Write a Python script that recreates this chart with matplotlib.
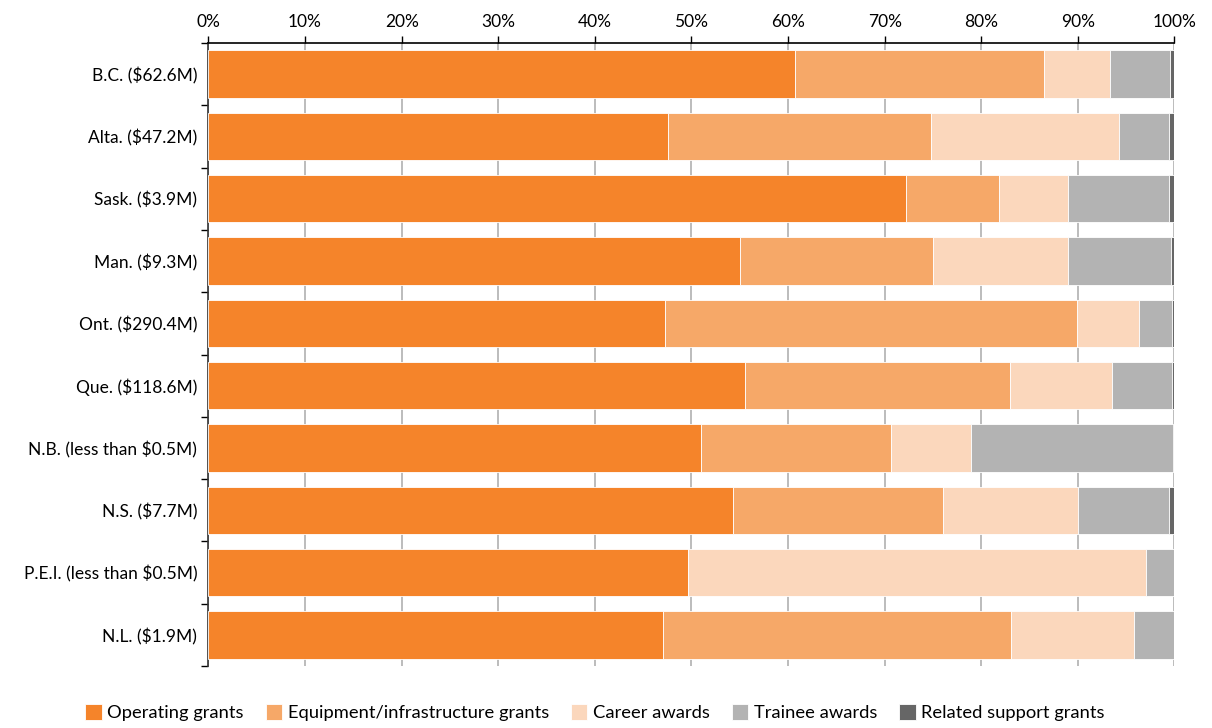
import numpy as np
import matplotlib.pyplot as plt
from matplotlib.ticker import PercentFormatter

plt.rcParams['font.family'] = ['Lato', 'DejaVu Sans']

# Provinces (top to bottom) and share of funding by program type (%)
provinces = ["B.C. ($62.6M)", "Alta. ($47.2M)", "Sask. ($3.9M)", "Man. ($9.3M)",
             "Ont. ($290.4M)", "Que. ($118.6M)", "N.B. (less than $0.5M)",
             "N.S. ($7.7M)", "P.E.I. (less than $0.5M)", "N.L. ($1.9M)"]
operating = [60.7, 47.6, 72.2, 55.0, 47.3, 55.5, 51.0, 54.3, 49.6, 47.1]
equipment = [25.8, 27.2, 9.6, 20.0, 42.6, 27.5, 19.7, 21.7, 0.0, 36.0]
career = [6.8, 19.5, 7.2, 14.0, 6.4, 10.5, 8.2, 14.0, 47.5, 12.7]
trainee = [6.2, 5.1, 10.4, 10.6, 3.4, 6.2, 21.0, 9.4, 2.9, 4.2]
related = [0.5, 0.6, 0.6, 0.4, 0.3, 0.3, 0.1, 0.6, 0.0, 0.0]

series = [operating, equipment, career, trainee, related]
names = ["Operating grants", "Equipment/infrastructure grants", "Career awards",
         "Trainee awards", "Related support grants"]
colors = ["#F5842A", "#F6A868", "#FBD7BC", "#B3B3B3", "#666666"]

fig, ax = plt.subplots(figsize=(12.12, 7.28), dpi=100)
fig.subplots_adjust(left=0.172, right=0.969, top=0.941, bottom=0.085)

y = np.arange(len(provinces))
left = np.zeros(len(provinces))
for vals, name, c in zip(series, names, colors):
    ax.barh(y, vals, left=left, height=0.76, color=c, label=name,
            edgecolor='white', linewidth=0.6, zorder=3)
    left += np.array(vals)

ax.set_xlim(0, 100)
ax.set_ylim(len(provinces) - 0.5, -0.5)
ax.xaxis.tick_top()
ax.set_xticks(np.arange(0, 101, 10))
ax.xaxis.set_major_formatter(PercentFormatter(decimals=0))
ax.tick_params(axis='x', length=5, width=1, labelsize=12.5, pad=4, direction='out')
ax.grid(axis='x', color='#B0B0B0', linewidth=1.2, zorder=0)

ax.set_yticks(np.arange(len(provinces) + 1) - 0.5)
ax.set_yticklabels([])
ax.set_yticks(y, minor=True)
ax.set_yticklabels(provinces, minor=True, fontsize=12.5)
ax.tick_params(axis='y', which='major', length=5, width=1)
ax.tick_params(axis='y', which='minor', length=0, pad=8)

for s in ['right', 'bottom']:
    ax.spines[s].set_visible(False)
ax.spines['top'].set_linewidth(1.2)
ax.spines['left'].set_linewidth(1.2)
ax.spines['left'].set_color('#333333')

ax.legend(loc='upper center', bbox_to_anchor=(0.40, -0.035), ncol=5, frameon=False,
          fontsize=13.2, handlelength=0.9, handleheight=0.9, handletextpad=0.3,
          columnspacing=1.2)

fig.savefig("out.png", dpi=100)
